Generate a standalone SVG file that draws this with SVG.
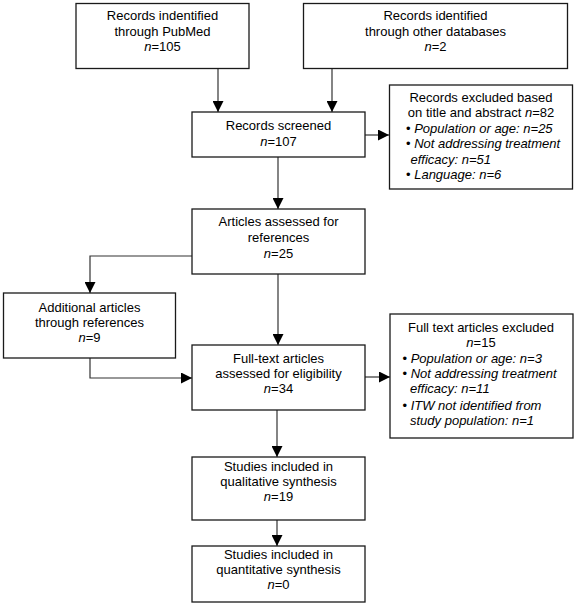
<svg xmlns="http://www.w3.org/2000/svg" width="579" height="614" viewBox="0 0 579 614">
<style>
.box{fill:#fff;stroke:#1a1a1a;stroke-width:1.3}
.t{font-family:"Liberation Sans",Arial,sans-serif;font-size:13px;fill:#000}
.c{text-anchor:middle}
.i{font-style:italic}
.con{fill:none;stroke:#333;stroke-width:1.2}
</style>
<defs>
<marker id="ah" markerUnits="userSpaceOnUse" markerWidth="11" markerHeight="11" refX="11" refY="5.5" orient="auto">
<path d="M0,0 L11,5.5 L0,11 Z" fill="#000"/>
</marker>
</defs>
<g id="connectors">
<line class="con" x1="218" y1="69" x2="218" y2="112" marker-end="url(#ah)"/>
<line class="con" x1="332" y1="69" x2="332" y2="112" marker-end="url(#ah)"/>
<line class="con" x1="365" y1="135" x2="389" y2="135" marker-end="url(#ah)"/>
<line class="con" x1="278" y1="157" x2="278" y2="209" marker-end="url(#ah)"/>
<polyline class="con" points="192,256 90,256 90,293" marker-end="url(#ah)"/>
<line class="con" x1="278" y1="274" x2="278" y2="345" marker-end="url(#ah)"/>
<polyline class="con" points="90,358 90,378 192,378" marker-end="url(#ah)"/>
<line class="con" x1="365" y1="377" x2="390" y2="377" marker-end="url(#ah)"/>
<line class="con" x1="277" y1="410" x2="277" y2="457" marker-end="url(#ah)"/>
<line class="con" x1="277" y1="520" x2="277" y2="546" marker-end="url(#ah)"/>
</g>
<g id="pubmed">
<rect class="box" x="76" y="3.5" width="173" height="65"/>
<text class="t c" x="162.5" y="20">Records indentified</text>
<text class="t c" x="162.5" y="35.5">through PubMed</text>
<text class="t c" x="162.5" y="51"><tspan class="i">n</tspan>=105</text>
</g>
<g id="otherdb">
<rect class="box" x="303.5" y="3.5" width="264" height="65"/>
<text class="t c" x="435.5" y="20">Records identified</text>
<text class="t c" x="435.5" y="35.5">through other databases</text>
<text class="t c" x="435.5" y="51"><tspan class="i">n</tspan>=2</text>
</g>
<g id="screened">
<rect class="box" x="192" y="112" width="173" height="45"/>
<text class="t c" x="278.5" y="130">Records screened</text>
<text class="t c" x="278.5" y="145.5"><tspan class="i">n</tspan>=107</text>
</g>
<g id="excluded1">
<rect class="box" x="389.5" y="85" width="183" height="104"/>
<text class="t c" x="481" y="101.5">Records excluded based</text>
<text class="t c" x="481" y="117">on title and abstract <tspan class="i">n</tspan>=82</text>
<text class="t" x="406" y="132.5">• <tspan class="i">Population or age: n=25</tspan></text>
<text class="t" x="406" y="148">• <tspan class="i">Not addressing treatment</tspan></text>
<text class="t i" x="410.5" y="163.5">efficacy: n=51</text>
<text class="t" x="406" y="179">• <tspan class="i">Language: n=6</tspan></text>
</g>
<g id="articles">
<rect class="box" x="192" y="209" width="173" height="65"/>
<text class="t c" x="278.5" y="225.5">Articles assessed for</text>
<text class="t c" x="278.5" y="241.5">references</text>
<text class="t c" x="278.5" y="257.5"><tspan class="i">n</tspan>=25</text>
</g>
<g id="additional">
<rect class="box" x="3.5" y="293" width="172" height="65"/>
<text class="t c" x="89.5" y="311.5">Additional articles</text>
<text class="t c" x="89.5" y="326.5">through references</text>
<text class="t c" x="89.5" y="341.5"><tspan class="i">n</tspan>=9</text>
</g>
<g id="fulltext">
<rect class="box" x="192" y="345" width="173" height="65"/>
<text class="t c" x="278.5" y="363">Full-text articles</text>
<text class="t c" x="278.5" y="378">assessed for eligibility</text>
<text class="t c" x="278.5" y="393"><tspan class="i">n</tspan>=34</text>
</g>
<g id="excluded2">
<rect class="box" x="390" y="314" width="183" height="124"/>
<text class="t c" x="481" y="331.5">Full text articles excluded</text>
<text class="t c" x="481" y="346.5"><tspan class="i">n</tspan>=15</text>
<text class="t" x="402.5" y="363">• <tspan class="i">Population or age: n=3</tspan></text>
<text class="t" x="402.5" y="378">• <tspan class="i">Not addressing treatment</tspan></text>
<text class="t i" x="410" y="393">efficacy: n=11</text>
<text class="t" x="402.5" y="409.5">• <tspan class="i">ITW not identified from</tspan></text>
<text class="t i" x="410" y="424.5">study population: n=1</text>
</g>
<g id="qualitative">
<rect class="box" x="192" y="457" width="173" height="63"/>
<text class="t c" x="278.5" y="471">Studies included in</text>
<text class="t c" x="278.5" y="486">qualitative synthesis</text>
<text class="t c" x="278.5" y="501"><tspan class="i">n</tspan>=19</text>
</g>
<g id="quantitative">
<rect class="box" x="192" y="546" width="173" height="56"/>
<text class="t c" x="278.5" y="558.5">Studies included in</text>
<text class="t c" x="278.5" y="573.5">quantitative synthesis</text>
<text class="t c" x="278.5" y="588.5"><tspan class="i">n</tspan>=0</text>
</g>
</svg>
